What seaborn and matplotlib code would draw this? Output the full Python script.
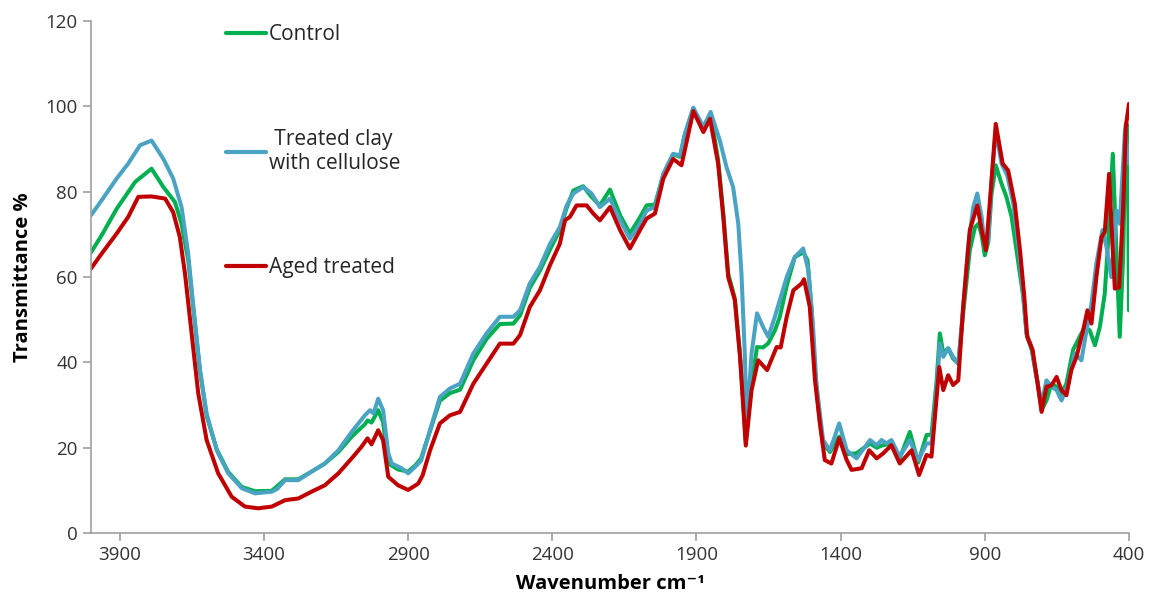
import matplotlib
matplotlib.use("Agg")
import matplotlib.pyplot as plt
import seaborn as sns
import pandas as pd

# ----------------------------
# DATA
# ----------------------------
control_wn = [4000, 3963, 3911, 3847, 3790, 3749, 3709, 3686, 3663, 3645, 3622, 3599,
              3564, 3524, 3477, 3431, 3373, 3327, 3281, 3235, 3189, 3142, 3096, 3050,
              3041, 3027, 3004, 2987, 2969, 2935, 2900, 2876, 2855, 2824, 2790, 2755,
              2720, 2674, 2628, 2582, 2535, 2512, 2478, 2443, 2408, 2374, 2350, 2327,
              2293, 2264, 2235, 2200, 2165, 2131, 2096, 2073, 2044, 2015, 1981, 1957,
              1940, 1911, 1876, 1851, 1825, 1807, 1790, 1767, 1749, 1729, 1709, 1690,
              1669, 1651, 1628, 1611, 1587, 1559, 1530, 1515, 1500, 1489, 1472, 1461,
              1437, 1405, 1379, 1345, 1298, 1275, 1258, 1224, 1195, 1160, 1131, 1102,
              1085, 1067, 1056, 1044, 1027, 1010, 992, 975, 952, 934, 922, 911, 900,
              888, 877, 862, 842, 825, 807, 790, 767, 755, 738, 717, 703, 686, 669,
              651, 640, 617, 594, 571, 553, 536, 518, 501, 484, 472, 456, 443, 432,
              420, 411, 404, 400]
control_t = [65.8, 69.8, 76.0, 82.3, 85.4, 81.1, 77.6, 72.5, 64.0, 52.5, 38.0, 27.5,
             19.6, 14.3, 10.8, 9.8, 9.9, 12.6, 12.6, 14.4, 16.3, 19.0, 22.6, 25.5,
             26.4, 25.9, 28.8, 26.0, 16.3, 14.9, 14.4, 15.8, 17.5, 24.0, 31.0, 32.8,
             33.6, 40.5, 45.5, 49.0, 49.1, 51.0, 57.5, 61.5, 66.5, 71.0, 76.3, 80.3,
             81.3, 78.8, 76.8, 80.5, 74.5, 70.2, 74.0, 76.8, 77.0, 84.0, 88.8, 88.2,
             93.5, 99.5, 95.0, 98.3, 87.5, 75.0, 60.8, 55.0, 42.0, 21.5, 35.0, 43.6,
             43.5, 44.5, 47.5, 50.7, 58.0, 64.7, 65.8, 64.0, 52.0, 38.0, 26.0, 21.0,
             19.0, 22.6, 18.5, 18.7, 21.0, 20.0, 20.5, 21.0, 17.5, 23.7, 16.5, 23.0,
             23.0, 35.8, 46.8, 42.1, 43.3, 40.9, 39.7, 51.5, 66.3, 71.7, 72.5, 69.8, 65.1,
             68.2, 79.3, 86.2, 81.9, 78.8, 74.1, 66.3, 55.5, 46.6, 43.1, 35.5, 28.8, 31.1, 35.0,
             34.3, 32.0, 35.0, 42.9, 46.0, 48.3, 47.5, 44.0, 48.3, 56.1, 68.6, 88.9, 65.1, 46.0,
             65.1, 95.9, 95.5, 52.2]

treated_wn = [4000, 3963, 3911, 3871, 3830, 3790, 3749, 3715, 3686, 3663, 3645, 3622,
              3599, 3564, 3524, 3477, 3431, 3373, 3355, 3327, 3281, 3235, 3189, 3142,
              3096, 3050, 3032, 3020, 3004, 2987, 2969, 2957, 2923, 2900, 2876, 2855,
              2824, 2790, 2755, 2720, 2674, 2628, 2582, 2535, 2512, 2478, 2443, 2408,
              2374, 2350, 2327, 2293, 2264, 2235, 2200, 2165, 2131, 2096, 2073, 2044,
              2015, 1981, 1957, 1940, 1911, 1876, 1851, 1819, 1796, 1773, 1755, 1744,
              1732, 1726, 1709, 1690, 1669, 1651, 1628, 1611, 1587, 1559, 1530, 1512,
              1495, 1484, 1461, 1437, 1405, 1379, 1345, 1298, 1275, 1258, 1241, 1224,
              1195, 1160, 1131, 1102, 1085, 1067, 1056, 1044, 1027, 1010, 992, 975, 958,
              940, 926, 911, 900, 888, 877, 862, 842, 822, 801, 784, 767, 755, 738, 721,
              703, 686, 669, 651, 634, 611, 588, 565, 547, 530, 513, 492, 478, 461, 443,
              432, 414, 400]
treated_t = [74.5, 78.0, 83.1, 86.6, 90.9, 92.0, 87.7, 83.1, 76.4, 65.5, 53.0, 38.2,
             28.0, 19.4, 14.0, 10.5, 9.3, 9.7, 10.3, 12.4, 12.4, 14.4, 16.3, 19.4,
             23.7, 27.6, 28.8, 28.0, 31.5, 28.8, 18.7, 16.3, 15.2, 14.0, 15.5, 17.0,
             24.1, 31.9, 33.9, 35.0, 42.1, 46.8, 50.7, 50.7, 52.2, 58.5, 62.4, 67.8,
             71.7, 76.8, 79.6, 81.1, 79.6, 76.4, 78.4, 73.3, 69.0, 72.5, 75.6, 76.4,
             84.2, 88.9, 88.5, 93.6, 99.7, 95.2, 98.7, 92.0, 85.8, 81.1, 72.5, 60.8,
             41.3, 25.0, 42.1, 51.5, 48.3, 46.0, 50.7, 54.6, 60.0, 64.7, 66.7, 61.6,
             47.5, 35.0, 21.8, 19.4, 25.7, 19.4, 17.5, 21.8, 20.6, 21.8, 21.0, 21.8,
             17.9, 21.8, 17.1, 21.0, 21.0, 33.5, 44.4, 41.3, 43.3, 41.3, 39.7, 53.0, 67.1,
             76.4, 79.6, 74.1, 67.1, 68.6, 81.9, 94.4, 86.6, 83.8, 77.2, 67.8, 56.1, 46.8, 43.6, 36.6,
             30.4, 35.8, 34.3, 33.5, 31.1, 35.0, 42.1, 40.5, 47.5, 53.8, 63.2, 71.0, 67.1, 60.0, 75.6,
             72.5, 94.4, 86.6]

aged_wn = [4000, 3963, 3911, 3871, 3836, 3790, 3743, 3715, 3692, 3674, 3651, 3628,
           3599, 3559, 3512, 3466, 3420, 3373, 3327, 3281, 3235, 3189, 3142, 3096,
           3062, 3041, 3027, 3004, 2987, 2969, 2935, 2900, 2865, 2850, 2824, 2790,
           2755, 2720, 2674, 2628, 2582, 2535, 2512, 2478, 2443, 2408, 2374, 2356,
           2339, 2316, 2281, 2258, 2235, 2200, 2165, 2131, 2096, 2073, 2044, 2015,
           1981, 1952, 1911, 1876, 1853, 1825, 1807, 1790, 1767, 1749, 1729, 1709,
           1686, 1655, 1622, 1608, 1587, 1564, 1535, 1527, 1507, 1489, 1472, 1455,
           1432, 1405, 1379, 1362, 1327, 1301, 1275, 1252, 1224, 1195, 1154, 1128,
           1102, 1085, 1058, 1044, 1027, 1010, 992, 975, 952, 926, 911, 896, 882, 862,
           838, 819, 796, 778, 763, 753, 734, 717, 703, 686, 669, 651, 634, 617, 600,
           582, 559, 544, 530, 513, 495, 484, 469, 458, 449, 434, 420, 411, 400]
aged_t = [62.0, 65.5, 70.2, 74.1, 78.8, 78.9, 78.4, 75.2, 69.4, 60.8, 46.8, 32.7,
          21.8, 14.0, 8.5, 6.2, 5.8, 6.2, 7.7, 8.1, 9.7, 11.2, 14.0, 17.5,
          20.2, 22.2, 20.8, 24.1, 21.8, 13.2, 11.2, 10.1, 11.6, 13.5, 19.4, 25.7,
          27.6, 28.4, 35.0, 39.7, 44.4, 44.4, 46.4, 53.0, 56.9, 62.8, 67.8, 73.3,
          74.1, 76.8, 76.8, 74.9, 73.3, 76.4, 71.0, 66.7, 71.0, 73.7, 74.9, 83.1,
          87.7, 86.2, 98.9, 94.0, 97.1, 86.6, 74.1, 60.0, 54.6, 41.3, 20.5, 33.5,
          40.5, 38.2, 43.6, 43.5, 50.7, 56.9, 58.5, 59.5, 53.0, 35.8, 25.7, 17.1,
          16.3, 22.2, 17.1, 14.8, 15.2, 19.4, 17.5, 18.7, 20.6, 16.3, 19.4, 13.6,
          18.3, 17.9, 38.9, 33.5, 37.0, 34.7, 35.8, 53.0, 71.0, 76.8, 71.0, 66.3, 78.0, 95.9,
          86.6, 85.0, 77.2, 66.3, 55.4, 46.0, 42.9, 35.1, 28.4, 34.3, 34.6, 36.6, 33.5, 32.3, 38.2,
          41.3, 47.5, 52.2, 49.1, 60.0, 69.4, 70.5, 84.2, 68.6, 57.3, 57.6, 76.4, 95.2, 100.6]

samples = ["Control", " Treated clay\nwith cellulose", "Aged treated"]
colors = ["#00B050", "#4BA3C3", "#C00000"]
x_ticks = [3900, 3400, 2900, 2400, 1900, 1400, 900, 400]
y_ticks = [0, 20, 40, 60, 80, 100, 120]

df = pd.concat([
    pd.DataFrame({"wavenumber": control_wn, "transmittance": control_t, "sample": samples[0]}),
    pd.DataFrame({"wavenumber": treated_wn, "transmittance": treated_t, "sample": samples[1]}),
    pd.DataFrame({"wavenumber": aged_wn, "transmittance": aged_t, "sample": samples[2]}),
], ignore_index=True)

# ----------------------------
# PLOT
# ----------------------------
sns.set_theme(style="white")
plt.rcParams["font.family"] = ["Open Sans", "DejaVu Sans"]

fig = plt.figure(figsize=(11.52, 6.03), dpi=100)
ax = fig.add_axes([0.079, 0.116, 0.901, 0.849])

sns.lineplot(data=df, x="wavenumber", y="transmittance", hue="sample",
             hue_order=samples, palette=colors, estimator=None, sort=False,
             linewidth=2.9, ax=ax)
for line in ax.lines:
    line.set_solid_joinstyle("round")
    line.set_solid_capstyle("round")

ax.set_xlim(4000, 400)
ax.set_ylim(0, 120)
ax.set_xticks(x_ticks)
ax.set_yticks(y_ticks)

for side in ["top", "right"]:
    ax.spines[side].set_visible(False)
for side in ["left", "bottom"]:
    ax.spines[side].set_color("#A0A0A0")
    ax.spines[side].set_linewidth(1.2)

ax.tick_params(axis="both", which="major", direction="out", length=6, width=1.2,
               color="#A0A0A0", labelcolor="#333333", labelsize=13.5,
               bottom=True, left=True)

ax.set_xlabel("Wavenumber cm⁻¹", fontsize=14.5, fontweight="bold", color="black",
              labelpad=7)
ax.set_ylabel("Transmittance %", fontsize=14.5, fontweight="bold", color="black",
              labelpad=9)

old = ax.get_legend()
handles = old.legend_handles
labels = [t.get_text() for t in old.get_texts()]
leg = ax.legend(handles, labels, loc="upper left", bbox_to_anchor=(0.13, 0.994),
                frameon=False, fontsize=15, handlelength=1.9, handletextpad=0.15,
                labelspacing=4.0, borderpad=0, borderaxespad=0)
for line in leg.get_lines():
    line.set_linewidth(3)

fig.savefig("out.png", dpi=100)
